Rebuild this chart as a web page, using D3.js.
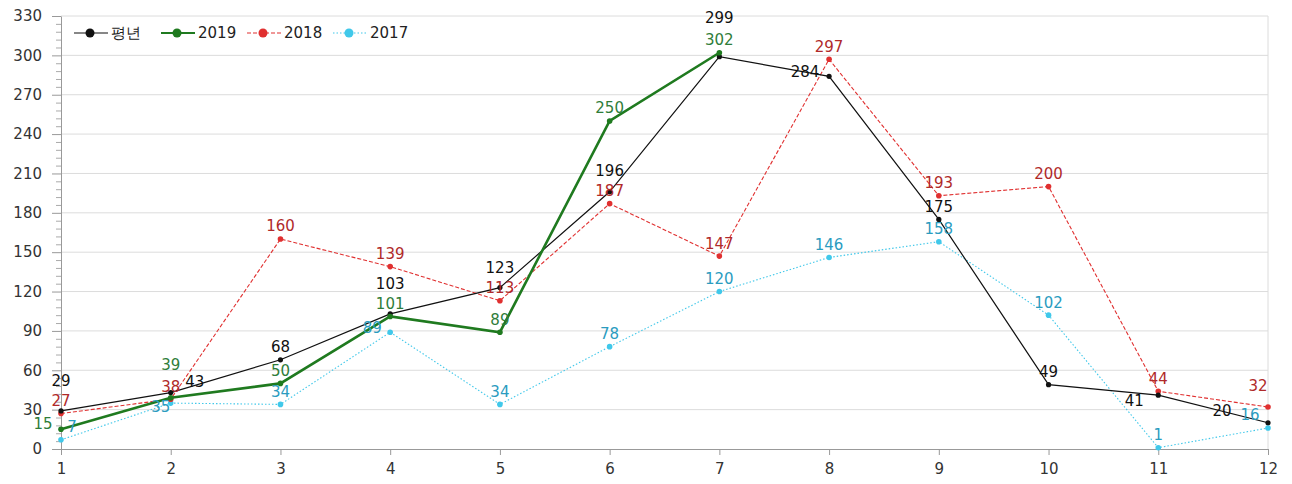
<!DOCTYPE html>
<html><head><meta charset="utf-8">
<script src="https://cdn.jsdelivr.net/npm/d3@7/dist/d3.min.js"></script>
<style>
html,body{margin:0;padding:0;background:#fff;}
svg{display:block;font-family:"DejaVu Sans",Verdana,sans-serif;}
</style></head>
<body><svg id="c" width="1292" height="484"></svg>
<script>
const months = [1,2,3,4,5,6,7,8,9,10,11,12];
const seriesNames = ["평년","2019","2018","2017"];
const normalValues = [29,43,68,103,123,196,299,284,175,49,41,20];
const y2019Values = [15,39,50,101,89,250,302];
const y2018Values = [27,38,160,139,113,187,147,297,193,200,44,32];
const y2017Values = [7,35,34,89,34,78,120,146,158,102,1,16];
const yTicks = [0,30,60,90,120,150,180,210,240,270,300,330];

const styles = {
  "평년": {line:"#111", label:"#111", width:1.2, dash:null, r:2.6},
  "2019": {line:"#1f7a1f", label:"#2f7d3a", width:2.6, dash:null, r:2.8},
  "2018": {line:"#e03030", label:"#b02a2a", width:1.1, dash:"4,2", r:2.8},
  "2017": {line:"#40c8ea", label:"#2b9cbf", width:1.1, dash:"1.5,2", r:2.8}
};
// label offsets (dx, dy of text centre relative to point); default above
const labelAdjust = {
  "평년": {0:[0,-30],1:[24,-11],3:[0,-30],4:[0,-20],5:[0,-21],6:[0,-39],7:[-24,-5],10:[-24,5],11:[-46,-12]},
  "2019": {0:[-18,-6],1:[0,-33]},
  "2018": {11:[-10,-21]},
  "2017": {0:[11,-13],1:[-10,4],3:[-18,-5],11:[-18,-13]}
};

const data = [
  {name:"평년", values:normalValues},
  {name:"2019", values:y2019Values},
  {name:"2018", values:y2018Values},
  {name:"2017", values:y2017Values}
];

const svg = d3.select("#c");
const m = {left:61, right:24, top:16, bottom:35};
const W = 1292, H = 484;
const x = d3.scaleLinear().domain([1,12]).range([m.left, W-m.right]);
const y = d3.scaleLinear().domain([0,330]).range([H-m.bottom, m.top]);

// grid
svg.append("g").selectAll("line").data(yTicks.filter(d=>d>0)).join("line")
  .attr("x1",m.left).attr("x2",W-m.right)
  .attr("y1",d=>y(d)).attr("y2",d=>y(d))
  .attr("stroke","#dcdcdc").attr("stroke-width",1);
svg.append("line").attr("x1",W-m.right).attr("x2",W-m.right)
  .attr("y1",y(330)).attr("y2",y(0)).attr("stroke","#dcdcdc");

// y minor ticks
const minor = d3.range(0,331,6).filter(v=>v%30!==0);
svg.append("g").attr("transform",`translate(${m.left},0)`)
  .call(d3.axisLeft(y).tickValues(minor).tickSize(5).tickFormat(""))
  .call(g=>g.select(".domain").remove())
  .call(g=>g.selectAll("line").attr("stroke","#aaa"));
// y axis
svg.append("g").attr("transform",`translate(${m.left},0)`)
  .call(d3.axisLeft(y).tickValues(yTicks).tickSize(9).tickPadding(10).tickSizeOuter(0))
  .call(g=>g.select(".domain").attr("stroke","#999"))
  .call(g=>g.selectAll("line").attr("stroke","#999"))
  .call(g=>g.selectAll("text").attr("font-size",15).attr("fill","#333").attr("font-family","DejaVu Sans"));
// x axis
svg.append("g").attr("transform",`translate(0,${y(0)})`)
  .call(d3.axisBottom(x).tickValues(months).tickFormat(d3.format("d")).tickSize(6).tickPadding(8).tickSizeOuter(0))
  .call(g=>g.select(".domain").attr("stroke","#999"))
  .call(g=>g.selectAll("line").attr("stroke","#999"))
  .call(g=>g.selectAll("text").attr("font-size",15).attr("fill","#333").attr("font-family","DejaVu Sans"));

// lines
const drawOrder = ["2017","2018","평년","2019"];
drawOrder.forEach(name=>{
  const s = data.find(d=>d.name===name), st = styles[name];
  const pts = s.values.map((v,i)=>({m:months[i], v}));
  svg.append("path").datum(pts)
    .attr("d", d3.line().x(d=>x(d.m)).y(d=>y(d.v)))
    .attr("fill","none").attr("stroke",st.line).attr("stroke-width",st.width)
    .attr("stroke-dasharray",st.dash);
  svg.append("g").selectAll("circle").data(pts).join("circle")
    .attr("cx",d=>x(d.m)).attr("cy",d=>y(d.v)).attr("r",st.r).attr("fill",st.line);
});
// labels
data.forEach(s=>{
  const st = styles[s.name], adj = labelAdjust[s.name]||{};
  svg.append("g").selectAll("text").data(s.values).join("text")
    .attr("x",(d,i)=>x(months[i]) + (adj[i]?adj[i][0]:0))
    .attr("y",(d,i)=>y(d) + (adj[i]?adj[i][1]:-13))
    .attr("dy","0.36em").attr("text-anchor","middle")
    .attr("font-size",15).attr("fill",st.label).text(d=>d);
});

// legend
const legX = [74,161,247,333];
const lg = svg.append("g");
seriesNames.forEach((n,i)=>{
  const st = styles[n], x0 = legX[i], yy = 33;
  lg.append("line").attr("x1",x0).attr("x2",x0+34).attr("y1",yy).attr("y2",yy)
    .attr("stroke",st.line).attr("stroke-width",Math.min(st.width,1.8)).attr("stroke-dasharray",st.dash);
  lg.append("circle").attr("cx",x0+16).attr("cy",yy).attr("r",4.5).attr("fill",st.line);
  lg.append("text").attr("x",x0+37).attr("y",yy).attr("dy","0.36em")
    .attr("font-size",15).attr("fill","#222").text(n);
});
</script></body></html>
